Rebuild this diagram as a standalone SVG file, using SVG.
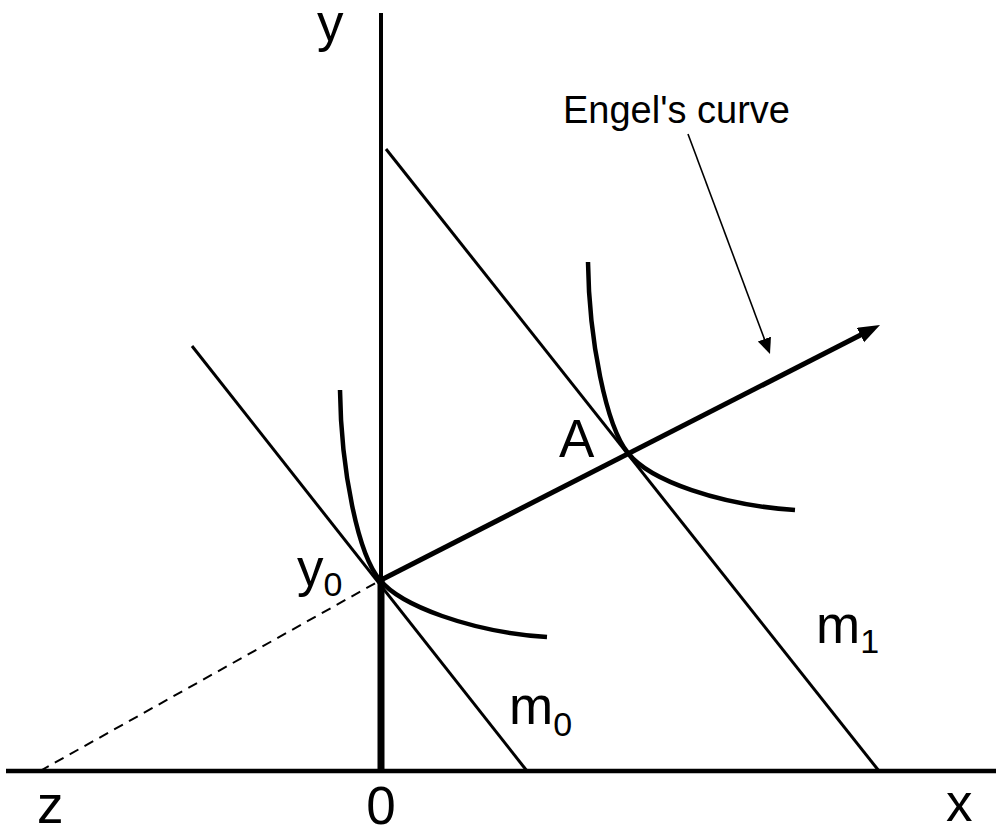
<svg xmlns="http://www.w3.org/2000/svg" width="996" height="835" viewBox="0 0 996 835">
<defs>
<style>
.lbl{font-family:"Liberation Sans",Arial,sans-serif;font-size:53px;fill:#000}
.sub{font-size:34px}
.ax{stroke:#000;fill:none}
.bud{stroke:#000;stroke-width:3;fill:none}
.ic{stroke:#000;stroke-width:4.5;fill:none}
</style>
<marker id="headBig" markerUnits="userSpaceOnUse" markerWidth="24" markerHeight="18" refX="4" refY="8" orient="auto">
<path d="M0,0 L22,8 L0,16 z" fill="#000"/>
</marker>
<marker id="headSmall" markerUnits="userSpaceOnUse" markerWidth="18" markerHeight="16" refX="4" refY="7" orient="auto">
<path d="M0,0 L16,7 L0,14 z" fill="#000"/>
</marker>
</defs>
<rect width="996" height="835" fill="#fff"/>
<g id="axes">
<line class="ax" x1="6" y1="771" x2="996" y2="771" stroke-width="4.5"/>
<line class="ax" x1="381" y1="13" x2="381" y2="771" stroke-width="4"/>
<line class="ax" x1="381" y1="576" x2="381" y2="771" stroke-width="7"/>
</g>
<g id="connectors">
<line x1="40" y1="771" x2="381" y2="580" stroke="#000" stroke-width="2" stroke-dasharray="10,7"/>
<line class="bud" x1="192" y1="346" x2="527" y2="771"/>
<line class="bud" x1="386" y1="149" x2="879" y2="771"/>
<line x1="381" y1="580" x2="864" y2="333.2" stroke="#000" stroke-width="5" marker-end="url(#headBig)"/>
<line x1="688" y1="134" x2="765.8" y2="342.8" stroke="#000" stroke-width="1.6" marker-end="url(#headSmall)"/>
</g>
<g id="curve0">
<path class="ic" d="M340,390 C341,470 358,555 380,580 C400,605 470,632 547,637"/>
</g>
<g id="curve1">
<path class="ic" d="M588,262 C589,340 606,426 628,453 C650,481 720,505 795,510"/>
</g>
<g id="labels">
<text class="lbl" x="317" y="41">y</text>
<text class="lbl" x="946" y="821">x</text>
<text class="lbl" x="37" y="823">z</text>
<text class="lbl" x="381" y="824" text-anchor="middle">0</text>
<text class="lbl" x="559" y="457">A</text>
<text class="lbl" x="297" y="586">y<tspan class="sub" dy="10">0</tspan></text>
<text class="lbl" x="509" y="724">m<tspan class="sub" dy="12">0</tspan></text>
<text class="lbl" x="816" y="643">m<tspan class="sub" dy="10">1</tspan></text>
<text x="563" y="123" font-family="Liberation Sans, Arial, sans-serif" font-size="38">Engel's curve</text>
</g>
</svg>
